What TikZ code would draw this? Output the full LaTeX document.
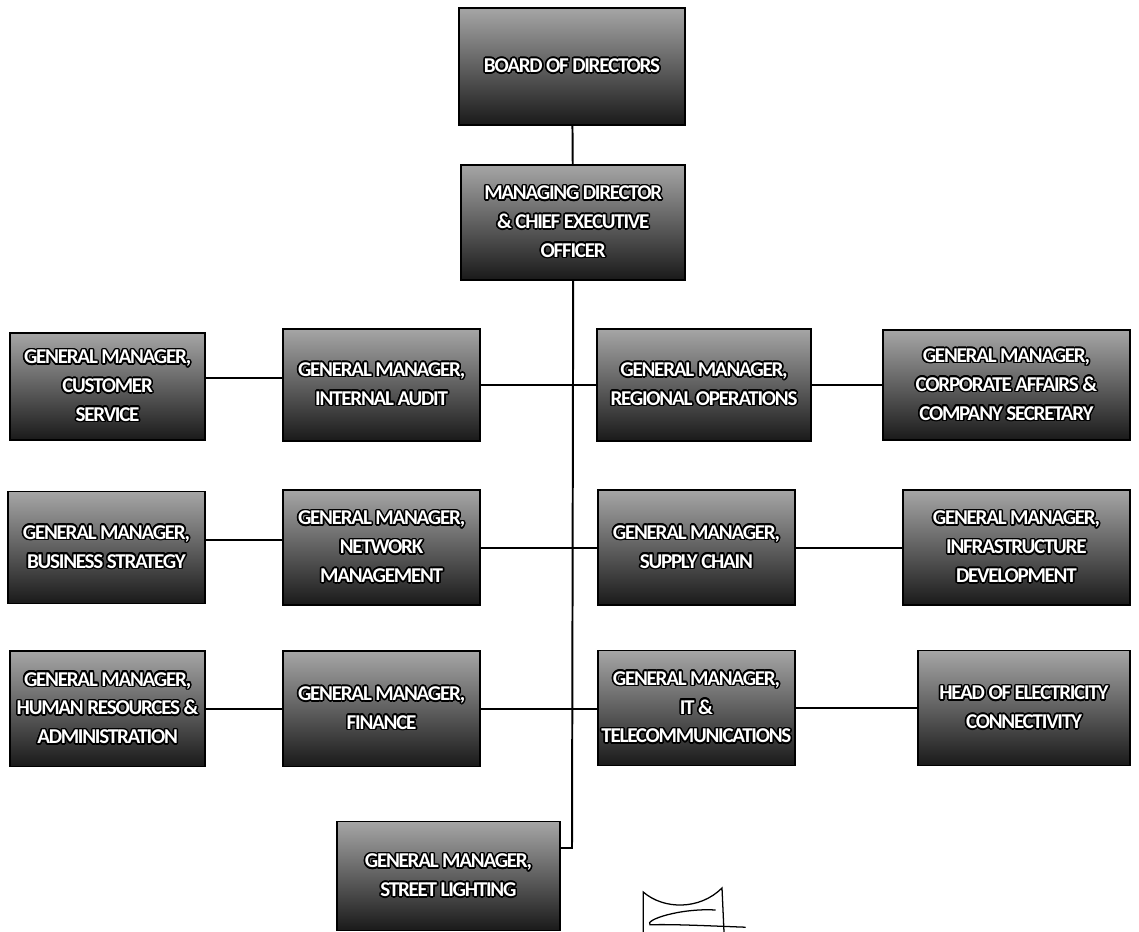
\documentclass[tikz,border=0pt]{standalone}
\usepackage{fontspec}
\setmainfont{Carlito}
\usepackage{xcolor}
\usepackage{contour}
\contourlength{1.1pt}
\usetikzlibrary{arrows.meta, positioning, calc, fit}

\newcommand{\ol}[1]{\contour{black}{\textcolor{white}{#1}}}

\begin{document}
\begin{tikzpicture}[
  orgbox/.style={draw=black, line width=1.2pt, top color=black!35, bottom color=black!90,
    align=center, inner sep=2pt, minimum height=2.8cm,
    font=\fontsize{15}{20.5}\selectfont\bfseries\addfontfeature{LetterSpace=-6}},
  link/.style={draw=black, line width=1.4pt}
]
\useasboundingbox (0,0) rectangle (28.475,-23.3);

% top of the chart
\node[orgbox, minimum width=5.65cm, minimum height=2.93cm] (board) at (14.3,-1.66) {\ol{BOARD OF DIRECTORS}};
\node[orgbox, minimum width=5.6cm, minimum height=2.88cm] (md) at (14.33,-5.56)
  {\ol{MANAGING DIRECTOR}\\\ol{\& CHIEF EXECUTIVE}\\\ol{OFFICER}};

% first row
\node[orgbox, minimum width=4.88cm, minimum height=2.68cm] (cust) at (2.69,-9.66)
  {\ol{GENERAL MANAGER,}\\\ol{CUSTOMER}\\\ol{SERVICE}};
\node[orgbox, minimum width=4.93cm] (audit) at (9.54,-9.62)
  {\ol{GENERAL MANAGER,}\\\ol{INTERNAL AUDIT}};
\node[orgbox, minimum width=5.35cm] (regops) at (17.6,-9.62)
  {\ol{GENERAL MANAGER,}\\\ol{REGIONAL OPERATIONS}};
\node[orgbox, minimum width=6.18cm, minimum height=2.75cm] (corp) at (25.16,-9.63)
  {\ol{GENERAL MANAGER,}\\\ol{CORPORATE AFFAIRS \&}\\\ol{COMPANY SECRETARY}};

% second row
\node[orgbox, minimum width=4.93cm] (biz) at (2.66,-13.69)
  {\ol{GENERAL MANAGER,}\\\ol{BUSINESS STRATEGY}};
\node[orgbox, minimum width=4.93cm, minimum height=2.88cm] (net) at (9.54,-13.69)
  {\ol{GENERAL MANAGER,}\\\ol{NETWORK}\\\ol{MANAGEMENT}};
\node[orgbox, minimum width=4.93cm, minimum height=2.88cm] (supply) at (17.41,-13.69)
  {\ol{GENERAL MANAGER,}\\\ol{SUPPLY CHAIN}};
\node[orgbox, minimum width=5.68cm, minimum height=2.88cm] (infra) at (25.41,-13.69)
  {\ol{GENERAL MANAGER,}\\\ol{INFRASTRUCTURE}\\\ol{DEVELOPMENT}};

% third row
\node[orgbox, minimum width=4.88cm, minimum height=2.88cm] (hr) at (2.69,-17.72)
  {\ol{GENERAL MANAGER,}\\\ol{HUMAN RESOURCES \&}\\\ol{ADMINISTRATION}};
\node[orgbox, minimum width=4.93cm, minimum height=2.88cm] (fin) at (9.54,-17.72)
  {\ol{GENERAL MANAGER,}\\\ol{FINANCE}};
\node[orgbox, minimum width=4.93cm, minimum height=2.88cm] (it) at (17.41,-17.7)
  {\ol{GENERAL MANAGER,}\\\ol{IT \&}\\\ol{TELECOMMUNICATIONS}};
\node[orgbox, minimum width=5.3cm, minimum height=2.88cm] (elec) at (25.6,-17.7)
  {\ol{HEAD OF ELECTRICITY}\\\ol{CONNECTIVITY}};

% last one
\node[orgbox, minimum width=5.58cm, minimum height=2.73cm] (street) at (11.21,-21.9)
  {\ol{GENERAL MANAGER,}\\\ol{STREET LIGHTING}};

% lines
\coordinate (trunkend) at (14.3,-21.2);
\draw[link] (board) -- (md);
\draw[link] (md.south) -- (trunkend) -- (trunkend -| street.east);
\draw[link] (audit.east) -- (audit.east -| regops.west);
\draw[link] (net.east) -- (net.east -| supply.west);
\draw[link] (fin.east) -- (fin.east -| it.west);
\draw[link] ([yshift=2mm]cust.east) -- ([yshift=2mm]cust.east -| audit.west);
\draw[link] ([yshift=2mm]biz.east) -- ([yshift=2mm]biz.east -| net.west);
\draw[link] (hr.east) -- (hr.east -| fin.west);
\draw[link] (regops.east) -- (regops.east -| corp.west);
\draw[link] (supply.east) -- (supply.east -| infra.west);
\draw[link] (it.east) -- (it.east -| elec.west);

% signature
\draw[line width=0.9pt, line cap=round]
  (16.08,-23.3) -- (16.08,-22.3) .. controls (16.6,-22.75) and (17.5,-22.75) .. (18.05,-22.2) -- (18.1,-23.3);
\draw[line width=0.9pt, line cap=round]
  (17.88,-22.75) .. controls (17.0,-22.7) and (16.1,-23.0) .. (16.25,-23.12)
  .. controls (16.8,-23.1) and (17.8,-23.15) .. (18.63,-23.18);
\end{tikzpicture}
\end{document}
